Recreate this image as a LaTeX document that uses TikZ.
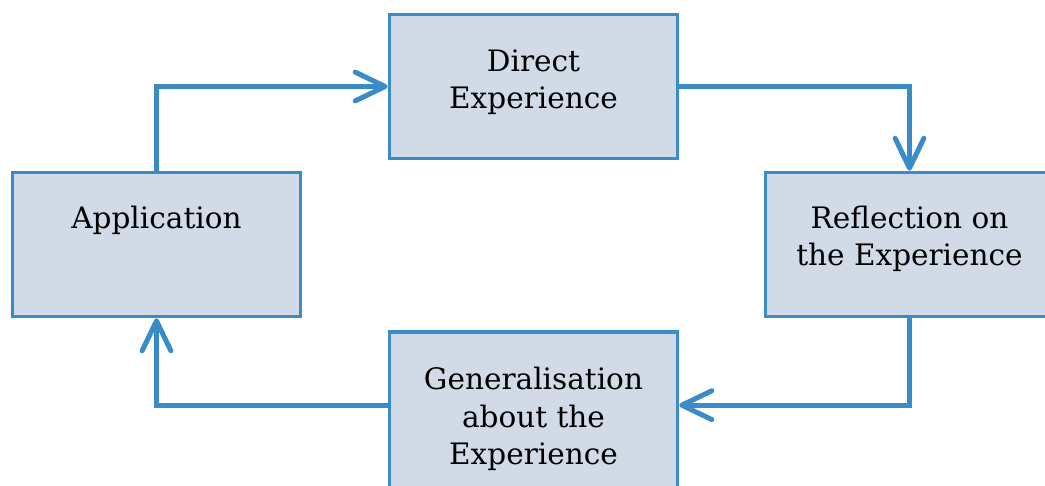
\documentclass[tikz,border=0pt]{standalone}
\usepackage{fontspec}
\setmainfont{DejaVu Serif}
\usetikzlibrary{arrows.meta,calc}
\definecolor{boxfill}{RGB}{209,219,232}
\definecolor{linkblue}{RGB}{59,139,201}

\begin{document}
\begin{tikzpicture}[x=0.025cm,y=-0.025cm,
  stage/.style={draw=linkblue,fill=boxfill,line width=0.09cm,minimum width=7.2cm,minimum height=3.6cm,inner sep=0pt},
  stagetext/.style={anchor=north,align=center,inner sep=0pt,font=\fontsize{21}{26.5}\selectfont},
  link/.style={draw=linkblue,line width=0.125cm,-{Straight Barb[length=0.75cm,width=0.72cm,line cap=round,line join=round]}}]
  \useasboundingbox (0,0) rectangle (1045,486);
  \clip (0,0) rectangle (1045,486);

  % boxes
  \node[stage] (dir) at (533.5,86.5) {};
  \node[stage] (app) at (156.5,244.5) {};
  \node[stage] (ref) at (909.5,244.5) {};
  \node[stage,minimum height=4.5cm] (gen) at (533.5,422) {};

  % texts
  \node[stagetext] (dirtext) at ($(dir.north)+(0,37)$) {Direct\\Experience};
  \node[stagetext] (apptext) at ($(app.north)+(0,35)$) {Application};
  \node[stagetext] (reftext) at ($(ref.north)+(0,35)$) {Reflection on\\the Experience};
  \node[stagetext] (gentext) at ($(gen.north)+(0,37)$) {Generalisation\\about the\\Experience};

  % connectors
  \coordinate (genin) at ($(gen.north east)+(0,75)$);
  \coordinate (genout) at ($(gen.north west)+(0,75)$);
  \draw[link] (app.north) |- (dir.west);
  \draw[link] (dir.east) -| (ref.north);
  \draw[link] (ref.south) |- (genin);
  \draw[link] (genout) -| (app.south);
\end{tikzpicture}
\end{document}
